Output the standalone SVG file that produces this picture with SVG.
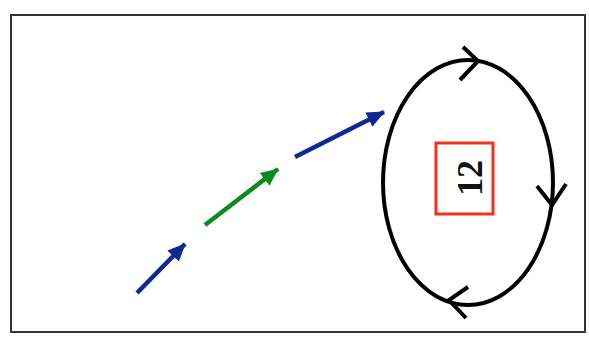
<svg xmlns="http://www.w3.org/2000/svg" width="589" height="349" viewBox="0 0 589 349">
<style>
.frame{fill:#fff;stroke:#333;stroke-width:2}
.loop{fill:none;stroke:#000;stroke-width:4}
.chev{fill:none;stroke:#000;stroke-width:4;stroke-linecap:butt;stroke-linejoin:miter}
.blue{stroke:#0d2a90;stroke-width:4.5;fill:none}
.green{stroke:#0c8a1f;stroke-width:4.5;fill:none}
.box{fill:#fff;stroke:#f0311f;stroke-width:3}
.lbl{font-family:"Liberation Serif",serif;font-weight:bold;font-size:36px;fill:#111}
</style>
<defs>
<marker id="hb" markerUnits="userSpaceOnUse" markerWidth="24" markerHeight="24" refX="17" refY="8" orient="auto"><path d="M0,0 L18,8 L0,16 Z" fill="#0d2a90"/></marker>
<marker id="hg" markerUnits="userSpaceOnUse" markerWidth="24" markerHeight="24" refX="17" refY="8" orient="auto"><path d="M0,0 L18,8 L0,16 Z" fill="#0c8a1f"/></marker>
</defs>
<rect class="frame" x="11" y="15" width="574" height="317"/>
<g id="connectors">
<line class="blue" x1="137" y1="293" x2="185" y2="244" marker-end="url(#hb)"/>
<line class="green" x1="205" y1="225" x2="278" y2="169" marker-end="url(#hg)"/>
<line class="blue" x1="295" y1="157" x2="384" y2="112" marker-end="url(#hb)"/>
</g>
<g id="cycle">
<ellipse class="loop" cx="468" cy="182.5" rx="85" ry="122.5"/>
<polyline class="chev" points="463,47 478,61 460,80"/>
<polyline class="chev" points="537,186 552,205 566,184"/>
<polyline class="chev" points="468,287 449,300 466,318"/>
</g>
<g id="node-12">
<rect class="box" x="436" y="143" width="57" height="71"/>
<text class="lbl" transform="translate(482,178) rotate(-90)" text-anchor="middle">12</text>
</g>
</svg>
